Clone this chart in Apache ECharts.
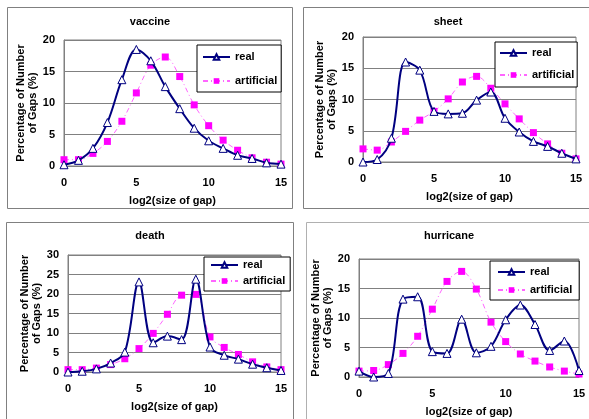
<!DOCTYPE html>
<html><head><meta charset="utf-8">
<script src="https://cdn.jsdelivr.net/npm/echarts@6/dist/echarts.min.js"></script>
<style>html,body{margin:0;padding:0;background:#fff}#c{width:589px;height:419px}</style>
</head><body><div id="c"></div>
<script>
const xValues = [0,1,2,3,4,5,6,7,8,9,10,11,12,13,14,15];
const xTicks = [0,5,10,15];
const titles = ['vaccine','sheet','death','hurricane'];
const seriesNames = ['real','artificial'];

const vaccineReal = [0.2,0.9,2.8,6.9,13.7,18.5,16.7,12.6,9.1,6.0,4.0,2.8,1.7,1.2,0.5,0.3];
const vaccineArtificial = [1.0,1.0,2.0,3.9,7.1,11.6,16.0,17.3,14.2,9.7,6.4,4.1,2.5,1.3,0.6,0.3];
const sheetReal = [0.0,0.4,3.8,16.0,14.7,8.1,7.7,7.8,9.9,11.2,7.0,4.8,3.3,2.5,1.4,0.5];
const sheetArtificial = [2.1,1.9,3.2,4.9,6.7,8.1,10.1,12.8,13.7,11.8,9.3,6.9,4.7,2.9,1.4,0.5];
const deathReal = [0.0,0.2,0.8,2.3,5.1,23.1,7.5,9.2,8.3,23.8,6.4,4.3,3.3,2.0,1.1,0.4];
const deathArtificial = [0.6,0.6,1.0,1.9,3.4,6.0,9.9,14.8,19.7,19.9,9.0,6.3,4.5,2.6,1.3,0.6];
const hurricaneReal = [1.0,0.0,0.6,13.2,13.6,4.3,4.0,9.8,4.1,5.2,9.7,12.2,8.9,4.5,6.1,1.1];
const hurricaneArtificial = [1.0,1.1,2.1,4.0,6.9,11.5,16.2,17.9,14.9,9.3,6.0,3.9,2.7,1.7,1.0,0.5];
const yMax = [20,20,30,20];

const realData = [vaccineReal, sheetReal, deathReal, hurricaneReal];
const artData = [vaccineArtificial, sheetArtificial, deathArtificial, hurricaneArtificial];

const grids = [
  {left:64, top:40, width:217, height:126},
  {left:363, top:37, width:213, height:125},
  {left:68, top:255, width:213, height:117},
  {left:359, top:259, width:220, height:118}
];
const titlePos = [[150,16],[448,16],[150,230],[449,230]];
const legendPos = [
  {left:197, top:45, pad:[6,4,5,5], gap:12},
  {left:495, top:42, pad:[5,3,6,4], gap:10},
  {left:204, top:257, pad:[2,5,4,6], gap:4},
  {left:490, top:261, pad:[5,7,4,7], gap:6}
];
const panels = [
  [7.5,7.5,285,201],[303.5,7.5,300,201],[6.5,222.5,287,300],[306.5,222.5,300,300]
];
const panelStroke = ['#808080','#808080','#808080','#b0b0b0'];

const font = 'Arial, "Liberation Sans", sans-serif';
const boldText = {fontFamily:font, fontWeight:'bold', fontSize:11, color:'#000'};

const option = {
  animation:false,
  backgroundColor:'#fff',
  graphic: panels.map((p,i) => ({type:'rect', z:-10, silent:true,
    shape:{x:p[0], y:p[1], width:p[2], height:p[3]},
    style:{fill:'#fff', stroke:panelStroke[i], lineWidth:1}})),
  title: titles.map((t,i) => ({text:t, left:titlePos[i][0], top:titlePos[i][1], textAlign:'center', padding:0,
    textStyle:Object.assign({}, boldText)})),
  grid: grids.map(g => Object.assign({show:true, borderColor:'#808080', borderWidth:1, backgroundColor:'#fff'}, g)),
  xAxis: grids.map((g,i) => ({type:'value', gridIndex:i, min:xTicks[0], max:xTicks[xTicks.length-1], interval:xTicks[1]-xTicks[0],
    name:'log2(size of gap)', nameLocation:'middle', nameGap:29,
    nameTextStyle:Object.assign({}, boldText),
    axisLine:{show:true, lineStyle:{color:'#808080'}}, axisTick:{show:false}, splitLine:{show:false},
    axisLabel:Object.assign({margin:11}, boldText)})),
  yAxis: grids.map((g,i) => ({type:'value', gridIndex:i, min:0, max:yMax[i], interval:5,
    name:'Percentage of Number\nof Gaps (%)', nameLocation:'middle', nameGap:25,
    nameTextStyle:Object.assign({lineHeight:12}, boldText),
    axisLine:{show:true, lineStyle:{color:'#808080'}}, axisTick:{show:false},
    splitLine:{show:true, lineStyle:{color:'#808080', width:1}},
    axisLabel:Object.assign({margin:9}, boldText)})),
  legend: legendPos.map((l,i) => ({
    data:[seriesNames[0]+'#'+i, seriesNames[1]+'#'+i].map(n=>({name:n})),
    formatter: n => n.split('#')[0],
    orient:'vertical', left:l.left, top:l.top, padding:l.pad, itemGap:l.gap,
    itemWidth:27, itemHeight:7, itemTextGap:3,
    borderColor:'#000', borderWidth:1, backgroundColor:'#fff',
    textStyle:Object.assign({lineHeight:12}, boldText)
  })),
  series: []
};
for (let i=0;i<4;i++){
  option.series.push({
    name:'real#'+i, type:'line', xAxisIndex:i, yAxisIndex:i, smooth:0.35,
    data: xValues.map((x,k)=>[x, realData[i][k]]),
    symbol:'triangle', symbolSize:8,
    itemStyle:{color:'#fff', borderColor:'#000080', borderWidth:1},
    lineStyle:{color:'#000080', width:2}, z:3
  });
  option.series.push({
    name:'artificial#'+i, type:'line', xAxisIndex:i, yAxisIndex:i, smooth:0.35,
    data: xValues.map((x,k)=>[x, artData[i][k]]),
    symbol:'rect', symbolSize:7,
    itemStyle:{color:'#FF00FF', borderColor:'#FF00FF', borderWidth:0},
    lineStyle:{color:'#FF66FF', width:1, type:[5,3,1,3]}, z:2
  });
}
const chart = echarts.init(document.getElementById('c'), null, {renderer:'canvas'});
chart.setOption(option);
</script></body></html>
